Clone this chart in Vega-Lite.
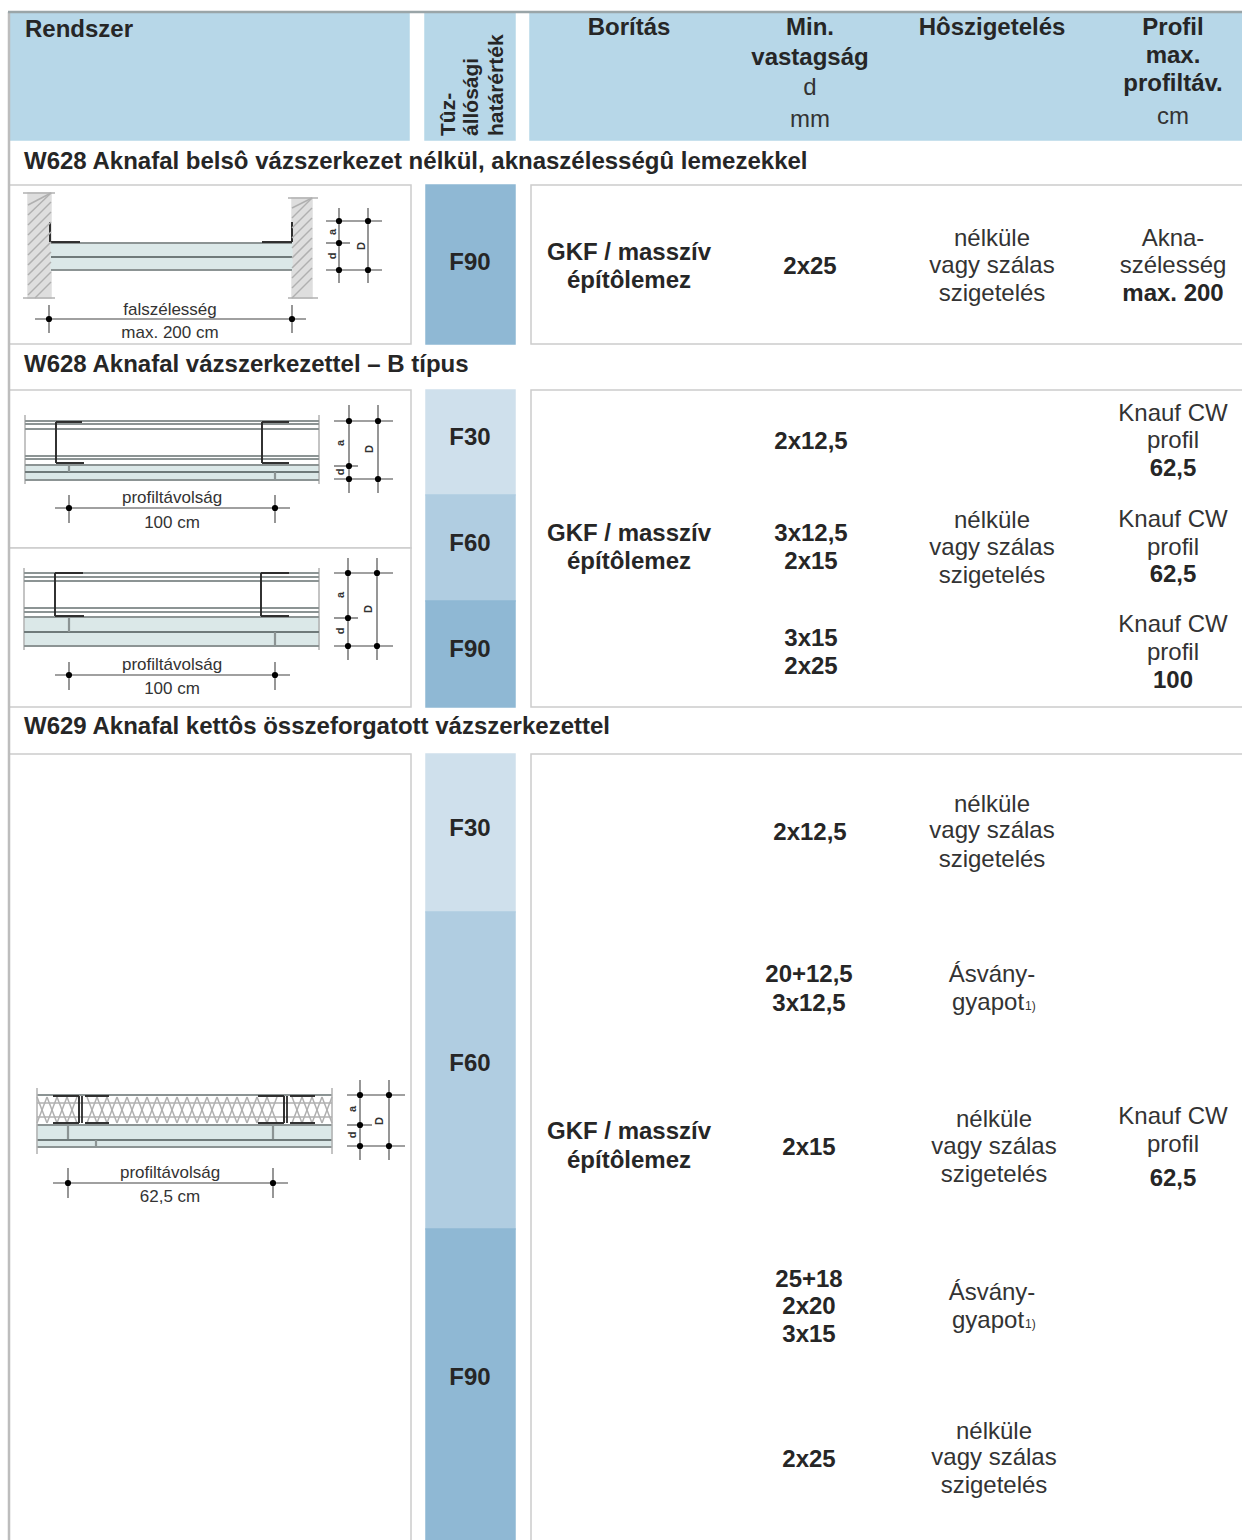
{"$schema":"https://vega.github.io/schema/vega-lite/v6.json","width":1242,"height":1540,"padding":0,"autosize":{"type":"none"},"background":"white","config":{"view":{"stroke":null}},
"datasets":{
"cells":[
{"k":"header","x":9,"x2":409,"y":13,"y2":140},{"k":"header","x":425,"x2":515,"y":13,"y2":140},{"k":"header","x":530,"x2":1245,"y":13,"y2":140},
{"k":"panel","x":9,"x2":411,"y":185,"y2":344},{"k":"F90","x":426,"x2":515,"y":185,"y2":344},{"k":"panel","x":531,"x2":1245,"y":185,"y2":344},
{"k":"panel","x":9,"x2":411,"y":390,"y2":548},{"k":"panel","x":9,"x2":411,"y":548,"y2":707},{"k":"F30","x":426,"x2":515,"y":390,"y2":495},{"k":"F60","x":426,"x2":515,"y":495,"y2":601},{"k":"F90","x":426,"x2":515,"y":601,"y2":707},{"k":"panel","x":531,"x2":1245,"y":390,"y2":707},
{"k":"panel","x":9,"x2":411,"y":754,"y2":1545},{"k":"F30","x":426,"x2":515,"y":754,"y2":912},{"k":"F60","x":426,"x2":515,"y":912,"y2":1229},{"k":"F90","x":426,"x2":515,"y":1229,"y2":1545},{"k":"panel","x":531,"x2":1245,"y":754,"y2":1545},
{"k":"wall","x":28,"x2":51,"y":193,"y2":298},{"k":"wall","x":292,"x2":312,"y":198,"y2":298},
{"k":"board","x":51,"x2":292,"y":243,"y2":257},{"k":"board","x":51,"x2":292,"y":257,"y2":270},
{"k":"board","x":25,"x2":319,"y":466,"y2":472},{"k":"board","x":25,"x2":319,"y":473,"y2":479},
{"k":"board","x":25,"x2":319,"y":617,"y2":631},{"k":"board","x":25,"x2":319,"y":632,"y2":646},
{"k":"board","x":37,"x2":332,"y":1125,"y2":1139},{"k":"board","x":37,"x2":332,"y":1141,"y2":1147}
],
"lines":[
{"k":"frame","x":9,"x2":9,"y":12,"y2":1540},{"k":"top","x":8,"x2":1242,"y":12,"y2":12},
{"k":"band","x":51,"x2":292,"y":243,"y2":243},{"k":"bandthick","x":51,"x2":292,"y":257,"y2":257},{"k":"band","x":51,"x2":292,"y":270,"y2":270},
{"k":"stud","x":50,"x2":50,"y":222,"y2":242},{"k":"stud","x":50,"x2":80,"y":242,"y2":242},{"k":"stud","x":292,"x2":292,"y":222,"y2":242},{"k":"stud","x":262,"x2":292,"y":242,"y2":242},
{"k":"dim","x":326,"x2":382,"y":221,"y2":221},{"k":"dim","x":326,"x2":382,"y":270,"y2":270},{"k":"dim","x":326,"x2":350,"y":243,"y2":243},{"k":"dim","x":339,"x2":339,"y":208,"y2":283},{"k":"dim","x":368,"x2":368,"y":208,"y2":283},
{"k":"dim","x":35,"x2":306,"y":319,"y2":319},{"k":"dim","x":49,"x2":49,"y":305,"y2":333},{"k":"dim","x":292,"x2":292,"y":305,"y2":333},
{"k":"hatch","x":23,"x2":55,"y":193,"y2":193},{"k":"hatch","x":23,"x2":55,"y":298,"y2":298},{"k":"hatch","x":288,"x2":318,"y":198,"y2":198},{"k":"hatch","x":288,"x2":318,"y":298,"y2":298},
{"k":"hatch","x":28,"x2":51,"y":205,"y2":193},{"k":"hatch","x":28,"x2":51,"y":215,"y2":193},{"k":"hatch","x":28,"x2":51,"y":225,"y2":202},{"k":"hatch","x":28,"x2":51,"y":235,"y2":212},{"k":"hatch","x":28,"x2":51,"y":245,"y2":222},{"k":"hatch","x":28,"x2":51,"y":255,"y2":232},{"k":"hatch","x":28,"x2":51,"y":265,"y2":242},{"k":"hatch","x":28,"x2":51,"y":275,"y2":252},{"k":"hatch","x":28,"x2":51,"y":285,"y2":262},{"k":"hatch","x":28,"x2":51,"y":295,"y2":272},{"k":"hatch","x":35,"x2":51,"y":298,"y2":282},
{"k":"hatch","x":292,"x2":312,"y":208,"y2":198},{"k":"hatch","x":292,"x2":312,"y":218,"y2":198},{"k":"hatch","x":292,"x2":312,"y":228,"y2":208},{"k":"hatch","x":292,"x2":312,"y":238,"y2":218},{"k":"hatch","x":292,"x2":312,"y":248,"y2":228},{"k":"hatch","x":292,"x2":312,"y":258,"y2":238},{"k":"hatch","x":292,"x2":312,"y":268,"y2":248},{"k":"hatch","x":292,"x2":312,"y":278,"y2":258},{"k":"hatch","x":292,"x2":312,"y":288,"y2":268},{"k":"hatch","x":292,"x2":312,"y":298,"y2":278},

{"k":"hatch","x":25,"x2":25,"y":415,"y2":484},{"k":"hatch","x":319,"x2":319,"y":415,"y2":484},{"k":"hatch","x":24,"x2":24,"y":568,"y2":650},{"k":"hatch","x":319,"x2":319,"y":568,"y2":650},
{"k":"band","x":25,"x2":319,"y":421,"y2":421},{"k":"band","x":25,"x2":319,"y":424,"y2":424},{"k":"band","x":25,"x2":319,"y":429,"y2":429},{"k":"band","x":25,"x2":319,"y":456,"y2":456},{"k":"band","x":25,"x2":319,"y":459,"y2":459},{"k":"band","x":25,"x2":319,"y":465,"y2":465},{"k":"bandthick","x":25,"x2":319,"y":472,"y2":472},{"k":"band","x":25,"x2":319,"y":480,"y2":480},
{"k":"stud","x":56,"x2":56,"y":422,"y2":463},{"k":"stud","x":56,"x2":82,"y":422,"y2":422},{"k":"stud","x":56,"x2":84,"y":463,"y2":463},{"k":"stud","x":262,"x2":262,"y":422,"y2":463},{"k":"stud","x":262,"x2":289,"y":422,"y2":422},{"k":"stud","x":262,"x2":289,"y":463,"y2":463},
{"k":"band","x":69,"x2":69,"y":464,"y2":472},{"k":"band","x":275,"x2":275,"y":472,"y2":480},
{"k":"dim","x":55,"x2":290,"y":508,"y2":508},{"k":"dim","x":69,"x2":69,"y":495,"y2":523},{"k":"dim","x":275,"x2":275,"y":495,"y2":523},
{"k":"dim","x":334,"x2":393,"y":421,"y2":421},{"k":"dim","x":334,"x2":393,"y":479,"y2":479},{"k":"dim","x":334,"x2":358,"y":466,"y2":466},{"k":"dim","x":349,"x2":349,"y":405,"y2":493},{"k":"dim","x":378,"x2":378,"y":405,"y2":493},

{"k":"band","x":24,"x2":319,"y":573,"y2":573},{"k":"band","x":24,"x2":319,"y":577,"y2":577},{"k":"band","x":24,"x2":319,"y":581,"y2":581},{"k":"band","x":24,"x2":319,"y":608,"y2":608},{"k":"band","x":24,"x2":319,"y":612,"y2":612},{"k":"band","x":24,"x2":319,"y":617,"y2":617},{"k":"bandthick","x":24,"x2":319,"y":632,"y2":632},{"k":"band","x":24,"x2":319,"y":646,"y2":646},
{"k":"stud","x":55,"x2":55,"y":573,"y2":616},{"k":"stud","x":55,"x2":83,"y":573,"y2":573},{"k":"stud","x":55,"x2":84,"y":616,"y2":616},{"k":"stud","x":261,"x2":261,"y":573,"y2":616},{"k":"stud","x":261,"x2":289,"y":573,"y2":573},{"k":"stud","x":261,"x2":289,"y":616,"y2":616},
{"k":"band","x":69,"x2":69,"y":617,"y2":632},{"k":"band","x":275,"x2":275,"y":632,"y2":646},
{"k":"dim","x":55,"x2":290,"y":675,"y2":675},{"k":"dim","x":69,"x2":69,"y":662,"y2":690},{"k":"dim","x":275,"x2":275,"y":662,"y2":690},
{"k":"dim","x":334,"x2":393,"y":573,"y2":573},{"k":"dim","x":334,"x2":393,"y":646,"y2":646},{"k":"dim","x":334,"x2":358,"y":618,"y2":618},{"k":"dim","x":348,"x2":348,"y":558,"y2":660},{"k":"dim","x":377,"x2":377,"y":558,"y2":660},

{"k":"band","x":37,"x2":332,"y":1095,"y2":1095},{"k":"hatch","x":37,"x2":332,"y":1103,"y2":1103},{"k":"hatch","x":37,"x2":332,"y":1117,"y2":1117},{"k":"band","x":37,"x2":332,"y":1125,"y2":1125},{"k":"bandthick","x":37,"x2":332,"y":1140,"y2":1140},{"k":"band","x":37,"x2":332,"y":1147,"y2":1147},
{"k":"band","x":68,"x2":68,"y":1125,"y2":1139},{"k":"band","x":273,"x2":273,"y":1125,"y2":1139},{"k":"band","x":96,"x2":96,"y":1140,"y2":1147},
{"k":"hatch","x":37,"x2":37,"y":1088,"y2":1154},{"k":"hatch","x":332,"x2":332,"y":1088,"y2":1154},
{"k":"hatch","x":37,"x2":47,"y":1097,"y2":1123},{"k":"hatch","x":47,"x2":37,"y":1097,"y2":1123},{"k":"hatch","x":47,"x2":57,"y":1097,"y2":1123},{"k":"hatch","x":57,"x2":47,"y":1097,"y2":1123},{"k":"hatch","x":57,"x2":67,"y":1097,"y2":1123},{"k":"hatch","x":67,"x2":57,"y":1097,"y2":1123},{"k":"hatch","x":67,"x2":77,"y":1097,"y2":1123},{"k":"hatch","x":77,"x2":67,"y":1097,"y2":1123},{"k":"hatch","x":87,"x2":97,"y":1097,"y2":1123},{"k":"hatch","x":97,"x2":87,"y":1097,"y2":1123},{"k":"hatch","x":97,"x2":107,"y":1097,"y2":1123},{"k":"hatch","x":107,"x2":97,"y":1097,"y2":1123},{"k":"hatch","x":107,"x2":117,"y":1097,"y2":1123},{"k":"hatch","x":117,"x2":107,"y":1097,"y2":1123},{"k":"hatch","x":117,"x2":127,"y":1097,"y2":1123},{"k":"hatch","x":127,"x2":117,"y":1097,"y2":1123},{"k":"hatch","x":127,"x2":137,"y":1097,"y2":1123},{"k":"hatch","x":137,"x2":127,"y":1097,"y2":1123},{"k":"hatch","x":137,"x2":147,"y":1097,"y2":1123},{"k":"hatch","x":147,"x2":137,"y":1097,"y2":1123},{"k":"hatch","x":147,"x2":157,"y":1097,"y2":1123},{"k":"hatch","x":157,"x2":147,"y":1097,"y2":1123},{"k":"hatch","x":157,"x2":167,"y":1097,"y2":1123},{"k":"hatch","x":167,"x2":157,"y":1097,"y2":1123},{"k":"hatch","x":167,"x2":177,"y":1097,"y2":1123},{"k":"hatch","x":177,"x2":167,"y":1097,"y2":1123},{"k":"hatch","x":177,"x2":187,"y":1097,"y2":1123},{"k":"hatch","x":187,"x2":177,"y":1097,"y2":1123},{"k":"hatch","x":187,"x2":197,"y":1097,"y2":1123},{"k":"hatch","x":197,"x2":187,"y":1097,"y2":1123},{"k":"hatch","x":197,"x2":207,"y":1097,"y2":1123},{"k":"hatch","x":207,"x2":197,"y":1097,"y2":1123},{"k":"hatch","x":207,"x2":217,"y":1097,"y2":1123},{"k":"hatch","x":217,"x2":207,"y":1097,"y2":1123},{"k":"hatch","x":217,"x2":227,"y":1097,"y2":1123},{"k":"hatch","x":227,"x2":217,"y":1097,"y2":1123},{"k":"hatch","x":227,"x2":237,"y":1097,"y2":1123},{"k":"hatch","x":237,"x2":227,"y":1097,"y2":1123},{"k":"hatch","x":237,"x2":247,"y":1097,"y2":1123},{"k":"hatch","x":247,"x2":237,"y":1097,"y2":1123},{"k":"hatch","x":247,"x2":257,"y":1097,"y2":1123},{"k":"hatch","x":257,"x2":247,"y":1097,"y2":1123},{"k":"hatch","x":257,"x2":267,"y":1097,"y2":1123},{"k":"hatch","x":267,"x2":257,"y":1097,"y2":1123},{"k":"hatch","x":267,"x2":277,"y":1097,"y2":1123},{"k":"hatch","x":277,"x2":267,"y":1097,"y2":1123},{"k":"hatch","x":292,"x2":302,"y":1097,"y2":1123},{"k":"hatch","x":302,"x2":292,"y":1097,"y2":1123},{"k":"hatch","x":302,"x2":312,"y":1097,"y2":1123},{"k":"hatch","x":312,"x2":302,"y":1097,"y2":1123},{"k":"hatch","x":312,"x2":322,"y":1097,"y2":1123},{"k":"hatch","x":322,"x2":312,"y":1097,"y2":1123},{"k":"hatch","x":322,"x2":332,"y":1097,"y2":1123},{"k":"hatch","x":332,"x2":322,"y":1097,"y2":1123},
{"k":"stud","x":53,"x2":79,"y":1096,"y2":1096},{"k":"stud","x":53,"x2":79,"y":1123,"y2":1123},{"k":"stud","x":85,"x2":109,"y":1096,"y2":1096},{"k":"stud","x":85,"x2":109,"y":1123,"y2":1123},{"k":"studthick","x":82,"x2":82,"y":1096,"y2":1123},{"k":"stud","x":79,"x2":79,"y":1096,"y2":1123},
{"k":"stud","x":258,"x2":284,"y":1096,"y2":1096},{"k":"stud","x":258,"x2":284,"y":1123,"y2":1123},{"k":"stud","x":290,"x2":315,"y":1096,"y2":1096},{"k":"stud","x":290,"x2":315,"y":1123,"y2":1123},{"k":"studthick","x":287,"x2":287,"y":1096,"y2":1123},{"k":"stud","x":284,"x2":284,"y":1096,"y2":1123},
{"k":"dim","x":347,"x2":405,"y":1095,"y2":1095},{"k":"dim","x":347,"x2":405,"y":1146,"y2":1146},{"k":"dim","x":347,"x2":372,"y":1125,"y2":1125},{"k":"dim","x":360,"x2":360,"y":1080,"y2":1160},{"k":"dim","x":389,"x2":389,"y":1080,"y2":1160},
{"k":"dim","x":53,"x2":288,"y":1183,"y2":1183},{"k":"dim","x":68,"x2":68,"y":1168,"y2":1198},{"k":"dim","x":273,"x2":273,"y":1168,"y2":1198}
],
"dots":[{"x":339,"y":221},{"x":368,"y":221},{"x":339,"y":243},{"x":339,"y":270},{"x":368,"y":270},{"x":49,"y":319},{"x":292,"y":319},
{"x":349,"y":421},{"x":378,"y":421},{"x":349,"y":466},{"x":349,"y":479},{"x":378,"y":479},{"x":69,"y":508},{"x":275,"y":508},
{"x":348,"y":573},{"x":377,"y":573},{"x":348,"y":618},{"x":348,"y":646},{"x":377,"y":646},{"x":69,"y":675},{"x":275,"y":675},
{"x":360,"y":1095},{"x":389,"y":1095},{"x":360,"y":1125},{"x":360,"y":1146},{"x":389,"y":1146},{"x":68,"y":1183},{"x":273,"y":1183}],
"boldLeft":[{"t":"Rendszer","x":25,"y":37},{"t":"W628 Aknafal belsô vázszerkezet nélkül, aknaszélességû lemezekkel","x":24,"y":169},{"t":"W628 Aknafal vázszerkezettel – B típus","x":24,"y":372},{"t":"W629 Aknafal kettôs összeforgatott vázszerkezettel","x":24,"y":734}],
"boldCenter":[{"t":"Borítás","x":629,"y":35},{"t":"Min.","x":810,"y":35},{"t":"vastagság","x":810,"y":65},{"t":"Hôszigetelés","x":992,"y":35},{"t":"Profil","x":1173,"y":35},{"t":"max.","x":1173,"y":63},{"t":"profiltáv.","x":1173,"y":91},
{"t":"F90","x":470,"y":270},{"t":"GKF / masszív","x":629,"y":260},{"t":"építôlemez","x":629,"y":288},{"t":"2x25","x":810,"y":274},{"t":"max. 200","x":1173,"y":301},
{"t":"F30","x":470,"y":445},{"t":"F60","x":470,"y":551},{"t":"F90","x":470,"y":657},{"t":"GKF / masszív","x":629,"y":541},{"t":"építôlemez","x":629,"y":569},{"t":"2x12,5","x":811,"y":449},{"t":"3x12,5","x":811,"y":541},{"t":"2x15","x":811,"y":569},{"t":"3x15","x":811,"y":646},{"t":"2x25","x":811,"y":674},{"t":"62,5","x":1173,"y":476},{"t":"62,5","x":1173,"y":582},{"t":"100","x":1173,"y":688},
{"t":"F30","x":470,"y":836},{"t":"F60","x":470,"y":1071},{"t":"F90","x":470,"y":1385},{"t":"GKF / masszív","x":629,"y":1139},{"t":"építôlemez","x":629,"y":1168},{"t":"2x12,5","x":810,"y":840},{"t":"20+12,5","x":809,"y":982},{"t":"3x12,5","x":809,"y":1011},{"t":"2x15","x":809,"y":1155},{"t":"25+18","x":809,"y":1287},{"t":"2x20","x":809,"y":1314},{"t":"3x15","x":809,"y":1342},{"t":"2x25","x":809,"y":1467},{"t":"62,5","x":1173,"y":1186}],
"regCenter":[{"t":"d","x":810,"y":95},{"t":"mm","x":810,"y":127},{"t":"cm","x":1173,"y":124},
{"t":"nélküle","x":992,"y":246},{"t":"vagy szálas","x":992,"y":273},{"t":"szigetelés","x":992,"y":301},{"t":"Akna-","x":1173,"y":246},{"t":"szélesség","x":1173,"y":273},
{"t":"nélküle","x":992,"y":528},{"t":"vagy szálas","x":992,"y":555},{"t":"szigetelés","x":992,"y":583},{"t":"Knauf CW","x":1173,"y":421},{"t":"profil","x":1173,"y":448},{"t":"Knauf CW","x":1173,"y":527},{"t":"profil","x":1173,"y":555},{"t":"Knauf CW","x":1173,"y":632},{"t":"profil","x":1173,"y":660},
{"t":"nélküle","x":992,"y":812},{"t":"vagy szálas","x":992,"y":838},{"t":"szigetelés","x":992,"y":867},{"t":"Ásvány-","x":992,"y":982},{"t":"nélküle","x":994,"y":1127},{"t":"vagy szálas","x":994,"y":1154},{"t":"szigetelés","x":994,"y":1182},{"t":"Ásvány-","x":992,"y":1300},{"t":"nélküle","x":994,"y":1439},{"t":"vagy szálas","x":994,"y":1465},{"t":"szigetelés","x":994,"y":1493},{"t":"Knauf CW","x":1173,"y":1124},{"t":"profil","x":1173,"y":1152}],
"regLeft":[{"t":"gyapot","x":952,"y":1010},{"t":"gyapot","x":952,"y":1328}],
"sup":[{"t":"1)","x":1025,"y":1010},{"t":"1)","x":1025,"y":1328}],
"rot":[{"t":"Tûz-","x":455,"y":136},{"t":"állósági","x":478,"y":136},{"t":"határérték","x":503,"y":136}],
"diagram":[{"t":"falszélesség","x":170,"y":315},{"t":"max. 200 cm","x":170,"y":338},{"t":"profiltávolság","x":172,"y":503},{"t":"100 cm","x":172,"y":528},{"t":"profiltávolság","x":172,"y":670},{"t":"100 cm","x":172,"y":694},{"t":"profiltávolság","x":170,"y":1178},{"t":"62,5 cm","x":170,"y":1202}],
"letters":[{"t":"a","x":333,"y":232},{"t":"d","x":333,"y":256},{"t":"D","x":362,"y":246},{"t":"a","x":341,"y":443},{"t":"d","x":341,"y":472},{"t":"D","x":370,"y":449},{"t":"a","x":341,"y":595},{"t":"d","x":341,"y":631},{"t":"D","x":369,"y":609},{"t":"a","x":353,"y":1109},{"t":"d","x":353,"y":1135},{"t":"D","x":380,"y":1121}]
},
"encoding":{"x":{"field":"x","type":"quantitative","scale":{"domain":[0,1242],"nice":false},"axis":null},"y":{"field":"y","type":"quantitative","scale":{"domain":[0,1540],"reverse":true,"nice":false},"axis":null}},
"layer":[
{"data":{"name":"cells"},"mark":{"type":"rect","strokeWidth":1.5},"encoding":{"x2":{"field":"x2"},"y2":{"field":"y2"},
"fill":{"field":"k","type":"nominal","legend":null,"scale":{"domain":["header","panel","F30","F60","F90","wall","board"],"range":["#b7d7e8","#ffffff","#cfe0ec","#b0cde1","#8fb8d4","#dedede","#dbe8e8"]}},
"stroke":{"field":"k","type":"nominal","legend":null,"scale":{"domain":["header","panel","F30","F60","F90","wall","board"],"range":["#b7d7e8","#cccccc","#cfe0ec","#b0cde1","#8fb8d4","#dedede","#dbe8e8"]}}}},
{"data":{"name":"lines"},"mark":{"type":"rule"},"encoding":{"x2":{"field":"x2"},"y2":{"field":"y2"},
"color":{"field":"k","type":"nominal","legend":null,"scale":{"domain":["frame","top","band","bandthick","stud","studthick","dim","hatch"],"range":["#bdbdbd","#9aa5a8","#8c9494","#6f7a7a","#2a2a2a","#2a2a2a","#808080","#b0b0b0"]}},
"strokeWidth":{"field":"k","type":"ordinal","legend":null,"scale":{"domain":["frame","top","band","bandthick","stud","studthick","dim","hatch"],"range":[2.5,1.5,1,2,2,3.5,1,0.8]}}}},
{"data":{"name":"dots"},"mark":{"type":"circle","size":38,"color":"#000000","opacity":1}},
{"data":{"name":"boldLeft"},"mark":{"type":"text","align":"left","baseline":"alphabetic","font":"Liberation Sans","fontWeight":"bold","fontSize":24,"color":"#262626"},"encoding":{"text":{"field":"t"}}},
{"data":{"name":"boldCenter"},"mark":{"type":"text","align":"center","baseline":"alphabetic","font":"Liberation Sans","fontWeight":"bold","fontSize":24,"color":"#262626"},"encoding":{"text":{"field":"t"}}},
{"data":{"name":"regCenter"},"mark":{"type":"text","align":"center","baseline":"alphabetic","font":"Liberation Sans","fontSize":24,"color":"#333333"},"encoding":{"text":{"field":"t"}}},
{"data":{"name":"regLeft"},"mark":{"type":"text","align":"left","baseline":"alphabetic","font":"Liberation Sans","fontSize":24,"color":"#333333"},"encoding":{"text":{"field":"t"}}},
{"data":{"name":"sup"},"mark":{"type":"text","align":"left","baseline":"alphabetic","font":"Liberation Sans","fontSize":12,"color":"#333333"},"encoding":{"text":{"field":"t"}}},
{"data":{"name":"rot"},"mark":{"type":"text","align":"left","baseline":"alphabetic","angle":270,"font":"Liberation Sans","fontWeight":"bold","fontSize":21,"color":"#262626"},"encoding":{"text":{"field":"t"}}},
{"data":{"name":"diagram"},"mark":{"type":"text","align":"center","baseline":"alphabetic","font":"Liberation Sans","fontSize":17,"color":"#333333"},"encoding":{"text":{"field":"t"}}},
{"data":{"name":"letters"},"mark":{"type":"text","align":"center","baseline":"middle","angle":270,"font":"Liberation Sans","fontWeight":"bold","fontSize":11,"color":"#333333"},"encoding":{"text":{"field":"t"}}}
]}
